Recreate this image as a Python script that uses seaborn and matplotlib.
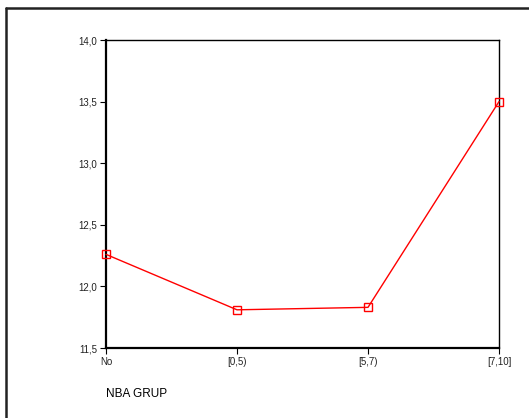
import matplotlib
matplotlib.use("Agg")
import matplotlib.pyplot as plt
import seaborn as sns
import pandas as pd
from matplotlib.ticker import FuncFormatter, MultipleLocator
from matplotlib.lines import Line2D

categories = ["No", "[0,5)", "[5,7)", "[7,10]"]
values = [12.26, 11.81, 11.83, 13.50]

sns.set_style("white")
plt.rcParams['font.family'] = ['Liberation Sans', 'DejaVu Sans']

df = pd.DataFrame({"grp": categories, "val": values})

fig = plt.figure(figsize=(5.29, 4.18), dpi=100)
ax = fig.add_axes([106/529, 1-348/418, (499-106)/529, (348-40)/418])

sns.lineplot(data=df, x="grp", y="val", ax=ax, color="red", linewidth=1,
             marker="s", markersize=5.5, markerfacecolor="none",
             markeredgecolor="red", markeredgewidth=1, clip_on=False, zorder=5)

ax.set_xlim(0, 3)
ax.set_ylim(11.5, 14.0)
ax.yaxis.set_major_locator(MultipleLocator(0.5))
ax.yaxis.set_major_formatter(FuncFormatter(lambda v, p: f"{v:.1f}".replace('.', ',')))
ax.set_xlabel("")
ax.set_ylabel("")
ax.tick_params(axis='both', direction='out', length=4, width=0.8, colors='black',
               labelsize=7, pad=2.5, left=True, bottom=True)
ax.tick_params(axis='both', labelcolor='#222222')
for s in ['left', 'bottom']:
    ax.spines[s].set_linewidth(1.6)
    ax.spines[s].set_color('black')
for s in ['top', 'right']:
    ax.spines[s].set_linewidth(1.0)
    ax.spines[s].set_color('black')

fig.text(106/529, 1-394/418, "NBA GRUP", fontsize=8.5, ha='left', va='center',
         color='black')

# outer frame (left and top edges)
fig.add_artist(Line2D([6/529, 6/529], [0, 1-8/418], transform=fig.transFigure,
                      color='#222222', linewidth=1.8))
fig.add_artist(Line2D([6/529, 1], [1-8/418, 1-8/418], transform=fig.transFigure,
                      color='#222222', linewidth=1.8))

fig.savefig("out.png", dpi=100)
